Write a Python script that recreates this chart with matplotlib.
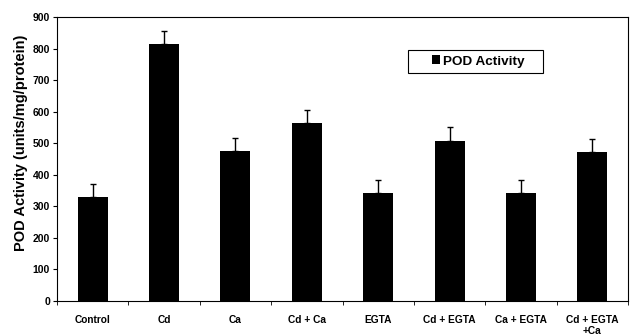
import matplotlib
matplotlib.use("Agg")
import matplotlib.pyplot as plt
from matplotlib.patches import Rectangle
import numpy as np

categories = ["Control", "Cd", "Ca", "Cd + Ca", "EGTA", "Cd + EGTA", "Ca + EGTA", "Cd + EGTA\n+Ca"]
pod_activity = [330, 816, 476, 565, 343, 508, 343, 473]
pod_error = [42, 40, 40, 40, 40, 44, 40, 40]
yticks = [0, 100, 200, 300, 400, 500, 600, 700, 800, 900]

plt.rcParams['font.family'] = ['Liberation Sans', 'DejaVu Sans']
plt.rcParams['font.weight'] = 'bold'

W, H = 632, 336
fig = plt.figure(figsize=(W / 100, H / 100), dpi=100)
L, R, T, B = 57, 628, 17, 301
ax = fig.add_axes([L / W, 1 - B / H, (R - L) / W, (B - T) / H])

x = np.arange(len(categories))
ax.bar(x, pod_activity, width=0.42, color='black', label='POD Activity', zorder=2)
ax.errorbar(x, pod_activity, yerr=[np.zeros(len(pod_error)), pod_error], fmt='none',
            ecolor='black', elinewidth=1, capsize=2.5, capthick=1, zorder=3)

ax.set_xlim(-0.5, len(categories) - 0.5)
ax.set_ylim(0, 900)
ax.set_yticks(yticks)
ax.set_yticklabels([str(v) for v in yticks], fontsize=7.5, fontweight='bold')
ax.set_xticks(x)
ax.set_xticklabels(categories, fontsize=7.3, fontweight='bold', va='top', linespacing=1.1)
ax.tick_params(axis='x', length=0, pad=10)
ax.set_xticks(np.arange(len(categories) + 1) - 0.5, minor=True)
ax.tick_params(axis='x', which='minor', length=3, direction='out')
ax.tick_params(axis='y', length=3, direction='out', width=0.8, pad=2)


def ax_x(px):
    return (px - L) / (R - L)


def ax_y(py):
    return 1 - (py - T) / (B - T)


ax.set_ylabel("POD Activity (units/mg/protein)", fontsize=10.5, fontweight='bold')
ax.yaxis.set_label_coords(ax_x(28), ax_y(143))

for s in ax.spines.values():
    s.set_linewidth(0.8)

# legend frame
ax.add_patch(Rectangle((ax_x(408), ax_y(73)), ax_x(543) - ax_x(408), ax_y(50) - ax_y(73),
                       transform=ax.transAxes, facecolor='white', edgecolor='black',
                       linewidth=0.8, zorder=4))
leg = ax.legend(loc='center left', bbox_to_anchor=(ax_x(432), ax_y(61.5)),
                prop={'size': 9.7, 'weight': 'bold'}, frameon=False,
                handlelength=0.6, handleheight=0.6, handletextpad=0.25,
                borderpad=0, borderaxespad=0)
leg.set_zorder(5)

fig.savefig("out.png", dpi=100)
